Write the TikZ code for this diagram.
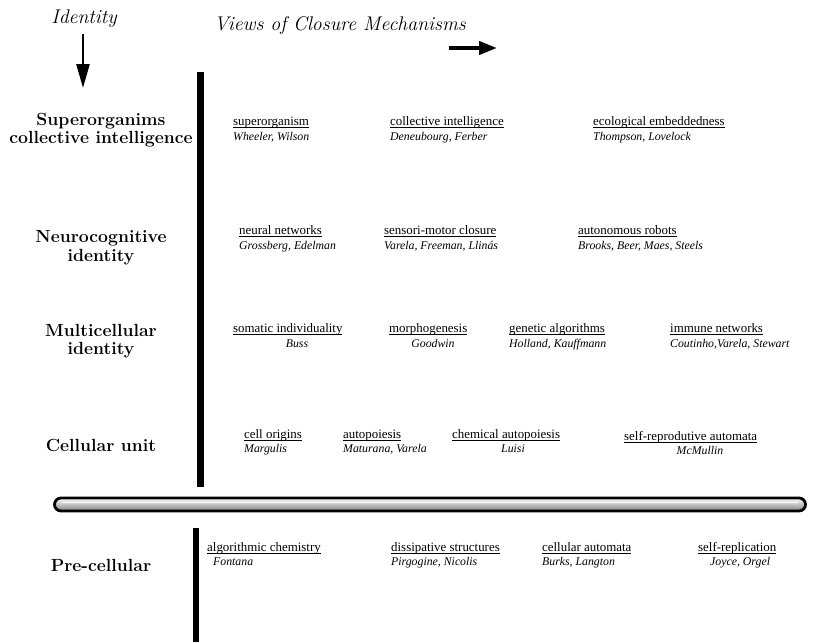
\documentclass[tikz,border=0pt]{standalone}
\usepackage{fontspec}
\newfontfamily\tms{Liberation Serif}
\usetikzlibrary{arrows.meta}
% underline drawn just below the baseline, crossing descenders
\newcommand\mechul[1]{\setbox0\hbox{#1}\rlap{\vrule width\wd0 height -1.7pt depth 2.6pt}\box0}
\tikzset{
  lbl/.style={font=\fontsize{17.6}{21}\selectfont\bfseries, anchor=base, inner sep=0pt},
  mech/.style={font=\tms\fontsize{12.9}{15}\selectfont, anchor=base west, inner sep=0pt},
  who/.style={font=\tms\itshape\fontsize{11.8}{14}\selectfont, anchor=base west, inner sep=0pt},
  whoc/.style={who, anchor=base},
  head/.style={font=\itshape\fontsize{19.8}{23}\selectfont, anchor=base, inner sep=0pt},
  bar/.style={line width=6.5pt},
}
\begin{document}
\begin{tikzpicture}[x=1pt,y=-1pt]
\useasboundingbox (0,0) rectangle (813,642);

% axis headings and arrows
\node[head] (hid) at (84,24) {Identity};
\node[head, anchor=base west] (hviews) at (214,31) {Views of Closure Mechanisms};
\coordinate (dtop) at (83,34);
\coordinate (dtip) at (83,88);
\draw[line width=2.6pt, -{Triangle[width=13pt,length=24pt]}] (dtop) -- (dtip);
\coordinate (rtail) at (449,48);
\coordinate (rtip) at (497,48);
\draw[line width=4pt, -{Triangle[width=13pt,length=18pt]}] (rtail) -- (rtip);

% vertical separators
\draw[bar] (200.5,72) -- (200.5,487);
\draw[bar] (196,528) -- (196,642);

% horizontal capsule
\draw[line width=2.8pt, rounded corners=6.5pt, top color=white, bottom color=black!50]
  (54.5,498) rectangle (805.5,511);
\draw[white, line width=1.2pt, line cap=round] (63,502.5) -- (797,502.5);

% identity levels
\node[lbl] (l1a) at (101,125) {Superorganims};
\node[lbl] (l1b) at (101,143) {collective intelligence};
\node[lbl] (l2a) at (101,242) {Neurocognitive};
\node[lbl] (l2b) at (101,261) {identity};
\node[lbl] (l3a) at (101,336) {Multicellular};
\node[lbl] (l3b) at (101,354) {identity};
\node[lbl] (l4) at (101,451) {Cellular unit};
\node[lbl] (l5) at (101,571) {Pre-cellular};

% superorganisms
\node[mech] (m11) at (233,125) {\mechul{superorganism}};
\node[who]  (a11) at (233,140) {Wheeler, Wilson};
\node[mech] (m12) at (390,125) {\mechul{collective intelligence}};
\node[who]  (a12) at (390,140) {Deneubourg, Ferber};
\node[mech] (m13) at (593,125) {\mechul{ecological embeddedness}};
\node[who]  (a13) at (593,140) {Thompson, Lovelock};

% neurocognitive
\node[mech] (m21) at (239,234) {\mechul{neural networks}};
\node[who]  (a21) at (239,249) {Grossberg, Edelman};
\node[mech] (m22) at (384,234) {\mechul{sensori-motor closure}};
\node[who]  (a22) at (384,249) {Varela, Freeman, Llinás};
\node[mech] (m23) at (578,234) {\mechul{autonomous robots}};
\node[who]  (a23) at (578,249) {Brooks, Beer, Maes, Steels};

% multicellular
\node[mech] (m31) at (233,332) {\mechul{somatic individuality}};
\node[whoc] (a31) at (297,347) {Buss};
\node[mech] (m32) at (389,332) {\mechul{morphogenesis}};
\node[whoc] (a32) at (433,347) {Goodwin};
\node[mech] (m33) at (509,332) {\mechul{genetic algorithms}};
\node[who]  (a33) at (509,347) {Holland, Kauffmann};
\node[mech] (m34) at (670,332) {\mechul{immune networks}};
\node[who]  (a34) at (670,347) {Coutinho,Varela, Stewart};

% cellular unit
\node[mech] (m41) at (244,438) {\mechul{cell origins}};
\node[who]  (a41) at (244,452) {Margulis};
\node[mech] (m42) at (343,438) {\mechul{autopoiesis}};
\node[who]  (a42) at (343,452) {Maturana, Varela};
\node[mech] (m43) at (452,438) {\mechul{chemical autopoiesis}};
\node[whoc] (a43) at (513,452) {Luisi};
\node[mech] (m44) at (624,440) {\mechul{self-reprodutive automata}};
\node[whoc] (a44) at (700,454) {McMullin};

% pre-cellular
\node[mech] (m51) at (207,551) {\mechul{algorithmic chemistry}};
\node[who]  (a51) at (213,565) {Fontana};
\node[mech] (m52) at (391,551) {\mechul{dissipative structures}};
\node[who]  (a52) at (391,565) {Pirgogine, Nicolis};
\node[mech] (m53) at (542,551) {\mechul{cellular automata}};
\node[who]  (a53) at (542,565) {Burks, Langton};
\node[mech] (m54) at (698,551) {\mechul{self-replication}};
\node[who]  (a54) at (710,565) {Joyce, Orgel};
\end{tikzpicture}
\end{document}
